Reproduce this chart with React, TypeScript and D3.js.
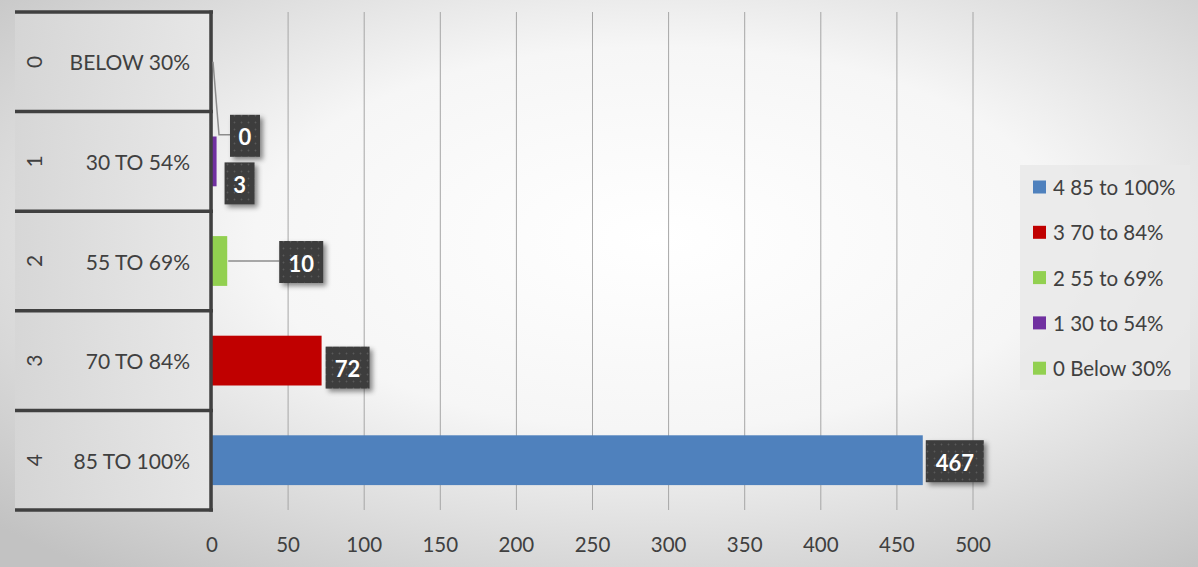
import React from "react";
import * as d3 from "d3";

const groups = ["0", "1", "2", "3", "4"];
const categories = ["BELOW 30%", "30 TO 54%", "55 TO 69%", "70 TO 84%", "85 TO 100%"];
const values = [0, 3, 10, 72, 467];
const barColors = ["#92d050", "#7030a0", "#92d050", "#c00000", "#4f81bd"];
const legendLabels = ["4 85 to 100%", "3 70 to 84%", "2 55 to 69%", "1 30 to 54%", "0 Below 30%"];
const legendColors = ["#4f81bd", "#c00000", "#92d050", "#7030a0", "#92d050"];
const xTicks = [0, 50, 100, 150, 200, 250, 300, 350, 400, 450, 500];

const W = 1198;
const H = 567;
const FONT = "Lato, 'Open Sans', sans-serif";
const TEXT = "#404040";

// label placement tweaks (relative offsets in px)
const labelOffsets = [
  { dx: 18, dy: 74, leader: "elbow" },
  { dx: 8, dy: 22, leader: "none" },
  { dx: 52, dy: 1, leader: "straight" },
  { dx: 4, dy: 7, leader: "none" },
  { dx: 3, dy: 1, leader: "none" },
];

export default function App() {
  const x = d3.scaleLinear().domain([0, 500]).range([212, 973]);
  const y = d3
    .scaleBand<string>()
    .domain(categories)
    .range([12, 510])
    .paddingInner(0.5)
    .paddingOuter(0.25);
  const step = y.step();
  const rowTop = (i: number) => 12 + i * step;

  return (
    <svg
      width={W}
      height={H}
      style={{ position: "absolute", left: 0, top: 0, display: "block" }}
      fontFamily={FONT}
    >
      <defs>
        <radialGradient id="bg" cx="0.55" cy="0.42" r="0.75">
          <stop offset="0" stopColor="#ffffff" />
          <stop offset="0.45" stopColor="#f6f6f6" />
          <stop offset="1" stopColor="#c2c2c2" />
        </radialGradient>
        <linearGradient id="catbg" x1="0" x2="1" y1="0" y2="0">
          <stop offset="0" stopColor="#d6d6d6" />
          <stop offset="1" stopColor="#e8e8e8" />
        </linearGradient>
        <pattern id="dots" width="7" height="7" patternUnits="userSpaceOnUse">
          <rect width="7" height="7" fill="#3c3c3c" />
          <circle cx="3.5" cy="3.5" r="0.9" fill="#5a5a5a" />
        </pattern>
        <filter id="shadow" x="-30%" y="-30%" width="160%" height="160%">
          <feDropShadow dx="3" dy="3" stdDeviation="2.5" floodColor="#000" floodOpacity="0.45" />
        </filter>
      </defs>

      <rect x={0} y={0} width={W} height={H} fill="url(#bg)" />
      <rect x={15} y={12} width={197} height={498} fill="url(#catbg)" opacity={0.9} />

      {/* gridlines */}
      {xTicks.map((t) => (
        <line
          key={"g" + t}
          x1={x(t)}
          x2={x(t)}
          y1={12}
          y2={510}
          stroke="#a6a6a6"
          strokeWidth={1}
        />
      ))}

      {/* bars */}
      {values.map((v, i) => (
        <rect
          key={"b" + i}
          x={x(0)}
          y={y(categories[i])!}
          width={x(v) - x(0)}
          height={y.bandwidth()}
          fill={barColors[i]}
        />
      ))}

      {/* category axis boxes */}
      {d3.range(categories.length + 1).map((i) => (
        <line
          key={"h" + i}
          x1={15}
          x2={213}
          y1={rowTop(i)}
          y2={rowTop(i)}
          stroke="#404040"
          strokeWidth={3.5}
        />
      ))}
      <line x1={211} x2={211} y1={10.5} y2={511.5} stroke="#404040" strokeWidth={3.5} />

      {categories.map((c, i) => {
        const cy = rowTop(i) + step / 2;
        return (
          <g key={"c" + i}>
            <text
              x={190}
              y={cy}
              textAnchor="end"
              dominantBaseline="central"
              fontSize={21}
              fill={TEXT}
            >
              {c}
            </text>
            <text
              transform={`translate(33,${cy}) rotate(-90)`}
              textAnchor="middle"
              dominantBaseline="central"
              fontSize={21}
              fill={TEXT}
            >
              {groups[i]}
            </text>
          </g>
        );
      })}

      {/* x tick labels */}
      {xTicks.map((t) => (
        <text
          key={"t" + t}
          x={x(t)}
          y={544}
          textAnchor="middle"
          dominantBaseline="central"
          fontSize={20.5}
          fill={TEXT}
        >
          {t}
        </text>
      ))}

      {/* data labels */}
      {values.map((v, i) => {
        const off = labelOffsets[i];
        const txt = String(v);
        const bw = 16 + txt.length * 14;
        const bh = 42;
        const barEnd = x(v);
        const cyBar = y(categories[i])! + y.bandwidth() / 2;
        const left = barEnd + off.dx;
        const cy = cyBar + off.dy;
        let leader: string | null = null;
        if (off.leader === "straight") {
          leader = `M${barEnd + 1},${cyBar}L${left},${cyBar}`;
        } else if (off.leader === "elbow") {
          leader = `M${barEnd + 1},${cyBar}L${barEnd + 7},${cy - 1}L${left},${cy - 1}`;
        }
        return (
          <g key={"l" + i}>
            {leader && <path d={leader} fill="none" stroke="#8c8c8c" strokeWidth={1.5} />}
            <rect
              x={left}
              y={cy - bh / 2}
              width={bw}
              height={bh}
              fill="url(#dots)"
              filter="url(#shadow)"
            />
            <text
              x={left + bw / 2}
              y={cy + 1}
              textAnchor="middle"
              dominantBaseline="central"
              fontSize={22}
              fontWeight="bold"
              fill="#ffffff"
            >
              {txt}
            </text>
          </g>
        );
      })}

      {/* legend */}
      <rect x={1020} y={165} width={170} height={225} fill="#e9e9e9" opacity={0.85} />
      {legendLabels.map((l, i) => {
        const ly = 187 + i * 45.3;
        return (
          <g key={"lg" + i}>
            <rect x={1033} y={ly - 6.5} width={13} height={13} fill={legendColors[i]} />
            <text
              x={1053}
              y={ly}
              dominantBaseline="central"
              fontSize={20.5}
              fill={TEXT}
            >
              {l}
            </text>
          </g>
        );
      })}
    </svg>
  );
}
